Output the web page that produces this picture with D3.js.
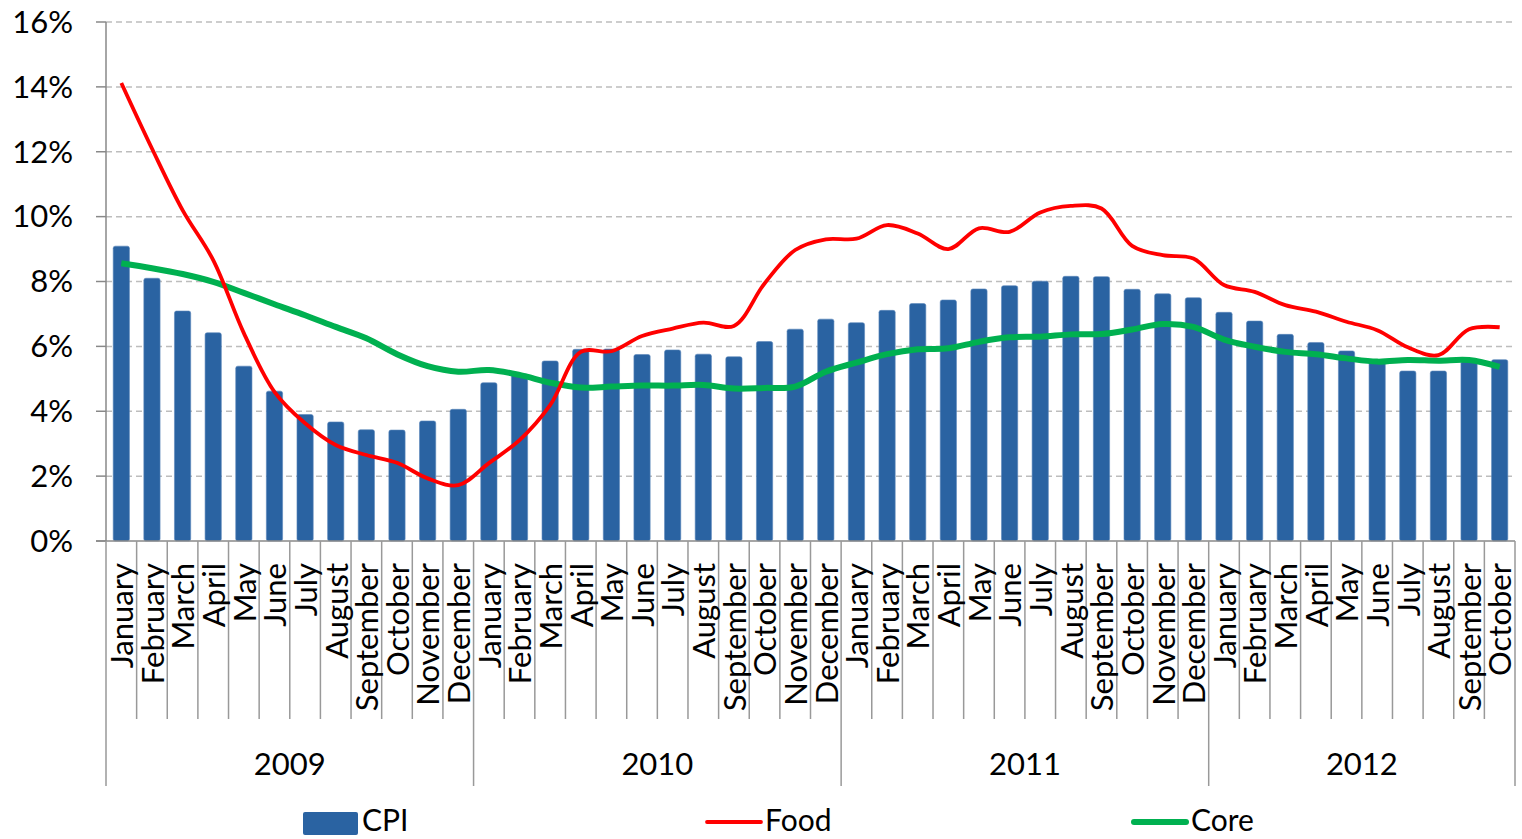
<!DOCTYPE html>
<html>
<head>
<meta charset="utf-8">
<script src="https://cdn.jsdelivr.net/npm/d3@7"></script>
<style>
  body { margin: 0; background: #fff; }
  svg text { font-family: Lato, "Open Sans", sans-serif; fill: #000; }
</style>
</head>
<body>
<div id="chart"></div>
<script>
const months = ['January','February','March','April','May','June','July','August','September','October','November','December'];
const years = ['2009', '2010', '2011', '2012'];
const yearCounts = [12, 12, 12, 10];
const yTicks = [0, 2, 4, 6, 8, 10, 12, 14, 16];

const cpi = [9.09, 8.10, 7.09, 6.42, 5.39, 4.62, 3.90, 3.67, 3.43, 3.42, 3.70, 4.06,
             4.88, 5.15, 5.55, 5.91, 5.92, 5.75, 5.89, 5.76, 5.68, 6.15, 6.53, 6.84,
             6.73, 7.11, 7.32, 7.43, 7.77, 7.87, 8.01, 8.16, 8.15, 7.76, 7.62, 7.50,
             7.05, 6.78, 6.37, 6.12, 5.86, 5.58, 5.24, 5.24, 5.53, 5.59];
const food = [14.12, 12.10, 10.20, 8.66, 6.41, 4.60, 3.63, 2.96, 2.65, 2.41, 1.93, 1.72,
              2.40, 3.11, 4.19, 5.83, 5.85, 6.32, 6.55, 6.73, 6.63, 7.94, 8.97, 9.30,
              9.32, 9.74, 9.48, 9.00, 9.64, 9.53, 10.13, 10.33, 10.25, 9.10, 8.81, 8.71,
              7.89, 7.68, 7.27, 7.07, 6.76, 6.50, 5.97, 5.73, 6.53, 6.59];
const core = [8.56, 8.41, 8.23, 7.99, 7.65, 7.30, 6.96, 6.60, 6.25, 5.76, 5.39, 5.22,
              5.27, 5.12, 4.88, 4.73, 4.76, 4.79, 4.79, 4.81, 4.70, 4.72, 4.76, 5.22,
              5.50, 5.76, 5.91, 5.94, 6.14, 6.28, 6.30, 6.37, 6.38, 6.52, 6.69, 6.60,
              6.21, 5.99, 5.83, 5.76, 5.63, 5.53, 5.58, 5.56, 5.58, 5.37];

const categories = [];
years.forEach((y, yi) => {
  for (let m = 0; m < yearCounts[yi]; m++) categories.push({year: y, month: months[m]});
});

const width = 1522, height = 839;
const margin = {left: 106, right: 7, top: 22, bottom: 298};
const fs = 31;

const svg = d3.select('#chart').append('svg')
  .attr('width', width).attr('height', height);

const x = d3.scaleBand()
  .domain(d3.range(categories.length))
  .range([margin.left, width - margin.right])
  .paddingInner(0).paddingOuter(0);
const y = d3.scaleLinear()
  .domain([0, 16])
  .range([height - margin.bottom, margin.top]);

const bw = x.bandwidth();
const cx = i => x(i) + bw / 2;
const y0 = y(0);

// gridlines
svg.append('g').attr('class', 'grid')
  .selectAll('line').data(yTicks.filter(d => d > 0))
  .join('line')
  .attr('x1', margin.left).attr('x2', width - margin.right)
  .attr('y1', d => y(d)).attr('y2', d => y(d))
  .attr('stroke', '#bdbdbd').attr('stroke-width', 1.5)
  .attr('stroke-dasharray', '6,4');

// y axis
const ya = svg.append('g').attr('class', 'yaxis');
ya.append('line')
  .attr('x1', margin.left).attr('x2', margin.left)
  .attr('y1', y(16)).attr('y2', y0)
  .attr('stroke', '#888').attr('stroke-width', 1.5);
ya.selectAll('line.tick').data(yTicks).join('line').attr('class', 'tick')
  .attr('x1', margin.left - 10).attr('x2', margin.left)
  .attr('y1', d => y(d)).attr('y2', d => y(d))
  .attr('stroke', '#888').attr('stroke-width', 1.5);
ya.selectAll('text').data(yTicks).join('text')
  .attr('x', 73).attr('y', d => y(d))
  .attr('dy', '0.35em')
  .attr('text-anchor', 'end')
  .style('font-size', fs + 'px')
  .text(d => d + '%');

// bars
svg.append('g').attr('class', 'bars')
  .selectAll('rect').data(cpi)
  .join('rect')
  .attr('x', (d, i) => cx(i) - bw * 0.265)
  .attr('width', bw * 0.53)
  .attr('y', d => y(d))
  .attr('height', d => y0 - y(d))
  .attr('rx', 2)
  .attr('fill', '#2A63A2')
  .attr('stroke', '#5b86bb').attr('stroke-width', 0.6);

// lines
const line = d3.line()
  .x((d, i) => cx(i))
  .y(d => y(d))
  .curve(d3.curveCatmullRom.alpha(0.5));

svg.append('path').datum(core)
  .attr('d', line)
  .attr('fill', 'none')
  .attr('stroke', '#00B050').attr('stroke-width', 6)
  .attr('stroke-linejoin', 'round');

svg.append('path').datum(food)
  .attr('d', line)
  .attr('fill', 'none')
  .attr('stroke', '#FF0000').attr('stroke-width', 3.8)
  .attr('stroke-linejoin', 'round');

// category axis
const xa = svg.append('g').attr('class', 'xaxis');
xa.append('line')
  .attr('x1', margin.left - 10).attr('x2', width - margin.right)
  .attr('y1', y0).attr('y2', y0)
  .attr('stroke', '#888').attr('stroke-width', 1.5);

const yearStarts = [0];
yearCounts.forEach((c, i) => yearStarts.push(yearStarts[i] + c));
const bounds = d3.range(categories.length + 1);
const edge = i => i < categories.length ? x(i) : x(categories.length - 1) + bw;

xa.selectAll('line.tick').data(bounds).join('line').attr('class', 'tick')
  .attr('x1', edge).attr('x2', edge)
  .attr('y1', y0)
  .attr('y2', d => yearStarts.includes(d) ? 786 : 719)
  .attr('stroke', '#999').attr('stroke-width', 1.5);

xa.selectAll('text.month').data(categories).join('text').attr('class', 'month')
  .attr('transform', (d, i) => `translate(${cx(i)}, 563) rotate(-90)`)
  .attr('dy', '0.38em')
  .attr('text-anchor', 'end')
  .style('font-size', fs + 'px')
  .text(d => d.month);

xa.selectAll('text.year').data(years).join('text').attr('class', 'year')
  .attr('x', (d, i) => (edge(yearStarts[i]) + edge(yearStarts[i + 1])) / 2)
  .attr('y', 775)
  .attr('text-anchor', 'middle')
  .style('font-size', fs + 'px')
  .text(d => d);

// legend
const lfs = 30, lby = 831;
const lg = svg.append('g').attr('class', 'legend');
lg.append('rect')
  .attr('x', 303).attr('y', 812).attr('width', 55).attr('height', 23)
  .attr('rx', 2).attr('fill', '#2A63A2');
lg.append('text').attr('x', 362).attr('y', lby).style('font-size', lfs + 'px').text('CPI');
lg.append('line')
  .attr('x1', 707).attr('x2', 761).attr('y1', 822).attr('y2', 822)
  .attr('stroke', '#FF0000').attr('stroke-width', 3.8).attr('stroke-linecap', 'round');
lg.append('text').attr('x', 765).attr('y', lby).style('font-size', lfs + 'px').text('Food');
lg.append('line')
  .attr('x1', 1134).attr('x2', 1186).attr('y1', 822).attr('y2', 822)
  .attr('stroke', '#00B050').attr('stroke-width', 6).attr('stroke-linecap', 'round');
lg.append('text').attr('x', 1191).attr('y', lby).style('font-size', lfs + 'px').text('Core');
</script>
</body>
</html>
